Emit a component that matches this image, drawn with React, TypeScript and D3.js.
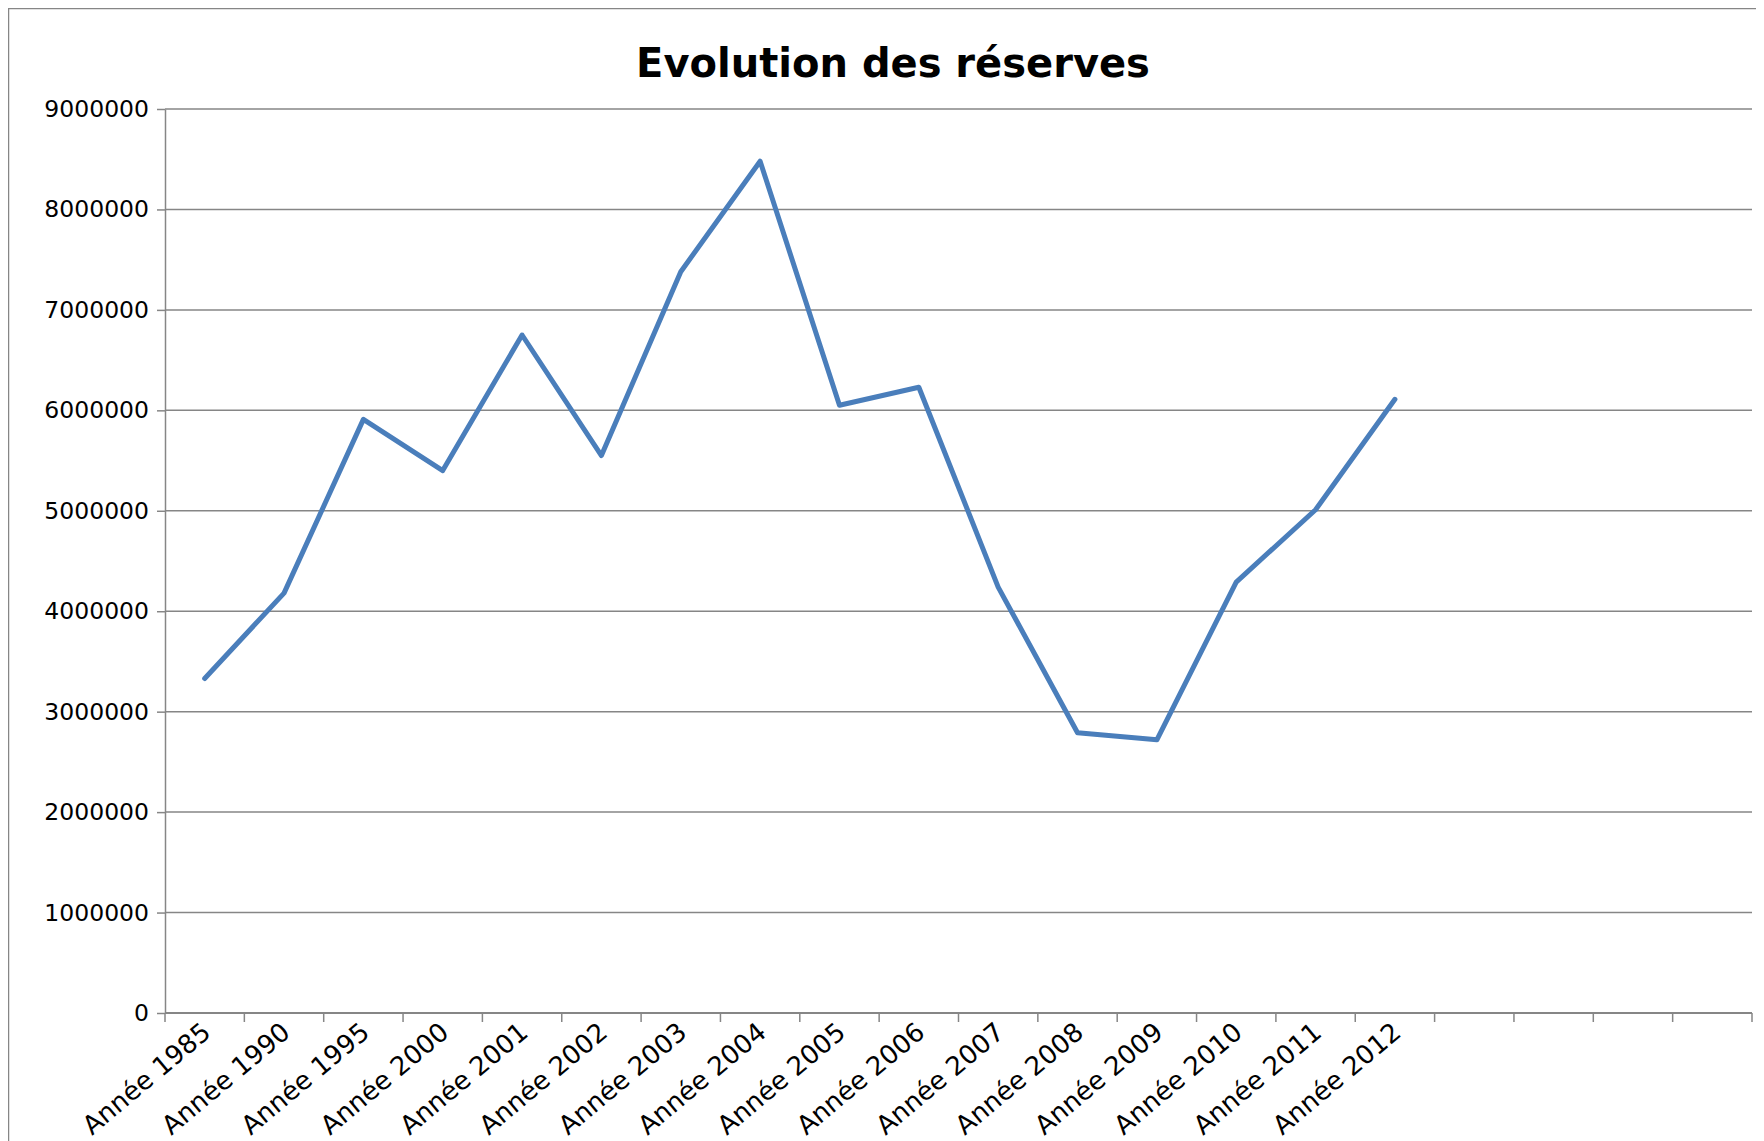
import React, { useEffect, useRef } from 'react';
import * as d3 from 'd3';

// Reserves per year
const years = [
    'Année 1985', 'Année 1990', 'Année 1995', 'Année 2000', 'Année 2001',
    'Année 2002', 'Année 2003', 'Année 2004', 'Année 2005', 'Année 2006',
    'Année 2007', 'Année 2008', 'Année 2009', 'Année 2010', 'Année 2011',
    'Année 2012',
];
const reserves = [
    3330000, 4180000, 5910000, 5400000, 6750000, 5550000, 7380000, 8480000,
    6050000, 6230000, 4240000, 2790000, 2720000, 4290000, 5010000, 6110000,
];
// empty categories after 2012, kept on the axis
const emptySlots = ['', '', '', ''];
const yTicks = [0, 1000000, 2000000, 3000000, 4000000, 5000000, 6000000, 7000000, 8000000, 9000000];

const App: React.FC = () => {
    const svgRef = useRef<SVGSVGElement>(null);

    useEffect(() => {
        document.body.style.overflow = 'hidden';
        const svg = d3.select(svgRef.current);
        svg.selectAll('*').remove();

        const width = 1756;
        const height = 1133;
        const margin = { top: 101, right: 12, bottom: 128, left: 157 };
        const innerWidth = width - margin.left - margin.right;
        const innerHeight = height - margin.top - margin.bottom;
        const grey = '#868686';
        const font = '"DejaVu Sans", sans-serif';

        // outer frame (only left and top are in view)
        svg.append('rect')
            .attr('x', 0.5)
            .attr('y', 0.5)
            .attr('width', width + 20)
            .attr('height', height + 20)
            .attr('fill', 'white')
            .attr('stroke', grey)
            .attr('stroke-width', 1.5);

        svg.append('text')
            .attr('x', 885)
            .attr('y', 69)
            .attr('text-anchor', 'middle')
            .style('font-family', font)
            .style('font-weight', 'bold')
            .style('font-size', '40px')
            .attr('fill', 'black')
            .text('Evolution des réserves');

        const cats = years.concat(emptySlots.map((_, i) => `__${i}`));

        const xScale = d3.scaleBand()
            .domain(cats)
            .range([0, innerWidth]);

        const yScale = d3.scaleLinear()
            .domain([0, 9000000])
            .range([innerHeight, 0]);

        const g = svg.append('g')
            .attr('transform', `translate(${margin.left},${margin.top})`);

        // gridlines
        g.append('g')
            .selectAll('line')
            .data(yTicks.filter((t) => t > 0))
            .enter()
            .append('line')
            .attr('x1', 0)
            .attr('x2', innerWidth)
            .attr('y1', (d) => yScale(d))
            .attr('y2', (d) => yScale(d))
            .attr('stroke', grey)
            .attr('stroke-width', 1.5);

        // y axis
        const yAxis = d3.axisLeft(yScale)
            .tickValues(yTicks)
            .tickFormat((d) => String(d))
            .tickSizeInner(8)
            .tickSizeOuter(0)
            .tickPadding(8);
        const yg = g.append('g').call(yAxis);
        yg.select('.domain').attr('stroke', grey).attr('stroke-width', 1.5);
        yg.selectAll('.tick line').attr('stroke', grey).attr('stroke-width', 1.5);
        yg.selectAll('.tick text')
            .style('font-family', font)
            .style('font-size', '23.5px')
            .attr('fill', 'black');

        // x axis: ticks on band boundaries
        const xg = g.append('g').attr('transform', `translate(0,${innerHeight})`);
        xg.append('line')
            .attr('x1', 0)
            .attr('x2', innerWidth)
            .attr('stroke', grey)
            .attr('stroke-width', 2);
        const bounds = cats.map((c) => xScale(c)!).concat([innerWidth]);
        xg.selectAll('.xtick')
            .data(bounds)
            .enter()
            .append('line')
            .attr('class', 'xtick')
            .attr('x1', (d) => d)
            .attr('x2', (d) => d)
            .attr('y1', 0)
            .attr('y2', 9)
            .attr('stroke', grey)
            .attr('stroke-width', 1.5);
        xg.selectAll('.xlabel')
            .data(years)
            .enter()
            .append('text')
            .attr('class', 'xlabel')
            .attr('transform', (d) => `translate(${xScale(d)! + xScale.bandwidth() / 2 - 4},${8}) rotate(-40)`)
            .attr('text-anchor', 'end')
            .attr('dy', '0.7em')
            .style('font-family', font)
            .style('font-size', '26px')
            .attr('fill', 'black')
            .text((d) => d);

        // the line
        const line = d3.line<number>()
            .x((_, i) => xScale(years[i])! + xScale.bandwidth() / 2)
            .y((d) => yScale(d));

        g.append('path')
            .datum(reserves)
            .attr('d', line)
            .attr('fill', 'none')
            .attr('stroke', '#4a7ebb')
            .attr('stroke-width', 5)
            .attr('stroke-linejoin', 'round')
            .attr('stroke-linecap', 'round');
    }, []);

    return <svg ref={svgRef} width={1756} height={1133} style={{ display: 'block' }} />;
};

export default App;
